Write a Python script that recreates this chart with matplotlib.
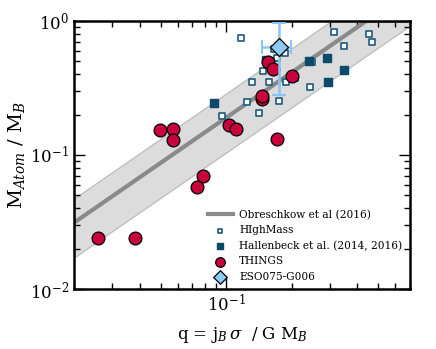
import numpy as np
import matplotlib
matplotlib.use('Agg')
import matplotlib.pyplot as plt

plt.rcParams['font.family'] = 'DejaVu Serif'
plt.rcParams['mathtext.fontset'] = 'dejavuserif'

# THINGS
things_q = [0.0257, 0.0381, 0.0497, 0.0570, 0.0570, 0.103, 0.111, 0.0783, 0.0735,
            0.172, 0.147, 0.146, 0.156, 0.165, 0.201]
things_f = [0.024, 0.024, 0.154, 0.155, 0.129, 0.168, 0.156, 0.0697, 0.0577,
            0.132, 0.262, 0.275, 0.494, 0.438, 0.389]

# HIghMass
hm_q = [0.117, 0.187, 0.166, 0.172, 0.148, 0.132, 0.158, 0.189, 0.208, 0.125,
        0.142, 0.175, 0.0959, 0.249, 0.244, 0.315, 0.350, 0.456, 0.471]
hm_f = [0.747, 0.577, 0.618, 0.530, 0.424, 0.351, 0.351, 0.351, 0.376, 0.249,
        0.206, 0.253, 0.195, 0.494, 0.322, 0.828, 0.651, 0.80, 0.697]

# Hallenbeck et al.
hb_q = [0.088, 0.241, 0.292, 0.350, 0.295, 0.153]
hb_f = [0.244, 0.503, 0.530, 0.431, 0.351, 0.511]

# ESO075-G006
eso_q, eso_f = 0.175, 0.640
eso_qerr = [[0.175 - 0.147], [0.199 - 0.175]]
eso_ferr = [[0.640 - 0.280], [0.966 - 0.640]]

# Obreschkow et al (2016) model: f = min(1, 2.5 q^1.12)
k_model, a_model = 2.5, 1.12
band_up, band_lo = 0.18, -0.26  # dex

fig = plt.figure(figsize=(4.36, 3.49), dpi=100)
ax = fig.add_axes([0.170, 0.172, 0.770, 0.768])

qq = np.logspace(np.log10(0.02), np.log10(0.7), 200)
ff = k_model * qq**a_model
ax.fill_between(qq, ff * 10**band_lo, ff * 10**band_up, facecolor='#dcdcdc',
                edgecolor='#c0c0c0', lw=1, zorder=1)
ax.plot(qq, np.minimum(1, ff), color='#8a8a8a', lw=3, zorder=2,
        label='Obreschkow et al (2016)')

ax.scatter(hm_q, hm_f, marker='s', s=22, facecolor='white', edgecolor='#1d5a7e',
           lw=1.2, zorder=3, label='HIghMass')
ax.scatter(hb_q, hb_f, marker='s', s=26, facecolor='#0c4a6c', edgecolor='#0c4a6c',
           zorder=4, label='Hallenbeck et al. (2014, 2016)')
ax.scatter(things_q, things_f, marker='o', s=85, facecolor='#c8003c', edgecolor='black',
           lw=0.9, zorder=5, label='THINGS')
ax.errorbar(eso_q, eso_f, xerr=eso_qerr, yerr=eso_ferr, fmt='none', ecolor='#8cc4f2',
            elinewidth=1.8, capsize=5, capthick=1.5, zorder=6)
ax.scatter([eso_q], [eso_f], marker='D', s=85, facecolor='#8ecaf6', edgecolor='black',
           lw=0.9, zorder=7, label='ESO075-G006')

ax.set_xscale('log')
ax.set_yscale('log')
ax.set_xlim(0.02, 0.7)
ax.set_ylim(0.01, 1)

ax.tick_params(which='both', direction='in', top=True, right=True, labelsize=12)
ax.tick_params(which='major', length=8, width=1)
ax.tick_params(which='minor', length=4, width=1)
for sp in ax.spines.values():
    sp.set_linewidth(1.8)

ax.set_xlabel(r'q = j$_B\,\sigma$  / G M$_B$', fontsize=12, labelpad=7)
ax.set_ylabel(r'M$_{Atom}$ / M$_B$', fontsize=14, labelpad=2)

ax.legend(loc='lower right', fontsize=7.6, frameon=False, handlelength=2.4,
          borderaxespad=0.3, handletextpad=0.6, markerscale=0.75)

fig.savefig('out.png', dpi=100)
